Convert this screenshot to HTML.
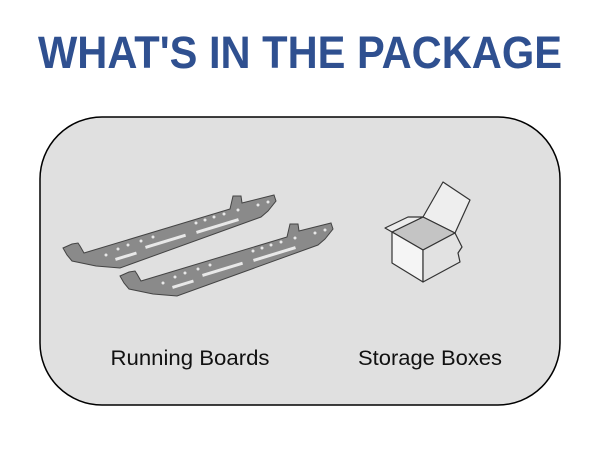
<!DOCTYPE html>
<html><head><style>html,body{margin:0;padding:0;background:#fff;width:600px;height:450px;overflow:hidden}</style></head>
<body>
<svg width="600" height="450" viewBox="0 0 600 450" xmlns="http://www.w3.org/2000/svg">
<text x="300" y="68" text-anchor="middle" font-family="Liberation Sans, sans-serif" font-weight="bold" font-size="45" fill="#2f5090" textLength="524" lengthAdjust="spacingAndGlyphs">WHAT'S IN THE PACKAGE</text>
<rect x="40" y="117" width="520" height="288" rx="62" ry="62" fill="#e0e0e0" stroke="#000" stroke-width="1.5"/>
<g id="board" fill="#8a8a8a" stroke="#444" stroke-width="1">
<path d="M63,248 L72,244 L78,243 L80,246 L84,253 L230,209 L233,196 L241,196 L242,203 L274,195 L276,201 L268,211 L261,217 L120,268 L96,266 L72,261 L67,255 Z"/>
<g fill="#e8e8e8" stroke="none">
<rect x="115" y="258" width="22" height="3" transform="rotate(-17 115 258)"/>
<rect x="145" y="246" width="42" height="3" transform="rotate(-17 145 246)"/>
<rect x="196" y="231" width="44" height="3" transform="rotate(-17 196 231)"/>
<circle cx="106" cy="255" r="1.5"/><circle cx="118" cy="249" r="1.5"/><circle cx="128" cy="245" r="1.5"/><circle cx="141" cy="241" r="1.5"/><circle cx="153" cy="237" r="1.5"/>
<circle cx="196" cy="223" r="1.5"/><circle cx="205" cy="220" r="1.5"/><circle cx="214" cy="217" r="1.5"/><circle cx="224" cy="214" r="1.5"/><circle cx="238" cy="210" r="1.5"/>
<circle cx="258" cy="205" r="1.5"/><circle cx="268" cy="202" r="1.5"/>
</g>
</g>
<use href="#board" transform="translate(57,28)"/>
<g stroke="#333" stroke-width="1.2" stroke-linejoin="round">
<path d="M423,217 L443,182 L470,200 L455,233 Z" fill="#eeeeee"/>
<path d="M392,232 L423,217 L455,233 L423,250 Z" fill="#c4c4c4"/>
<path d="M392,232 L423,250 L423,282 L392,263 Z" fill="#f5f5f5"/>
<path d="M423,250 L455,233 L462,247 L458,253 L460,262 L423,282 Z" fill="#e2e2e2"/>
<path d="M392,232 L385,228 L408,217 L423,217 Z" fill="#ececec"/>
</g>
<text x="190" y="365" text-anchor="middle" font-family="Liberation Sans, sans-serif" font-size="21" fill="#111" textLength="159" lengthAdjust="spacingAndGlyphs">Running Boards</text>
<text x="430" y="365" text-anchor="middle" font-family="Liberation Sans, sans-serif" font-size="21" fill="#111" textLength="144" lengthAdjust="spacingAndGlyphs">Storage Boxes</text>
</svg>
</body></html>
